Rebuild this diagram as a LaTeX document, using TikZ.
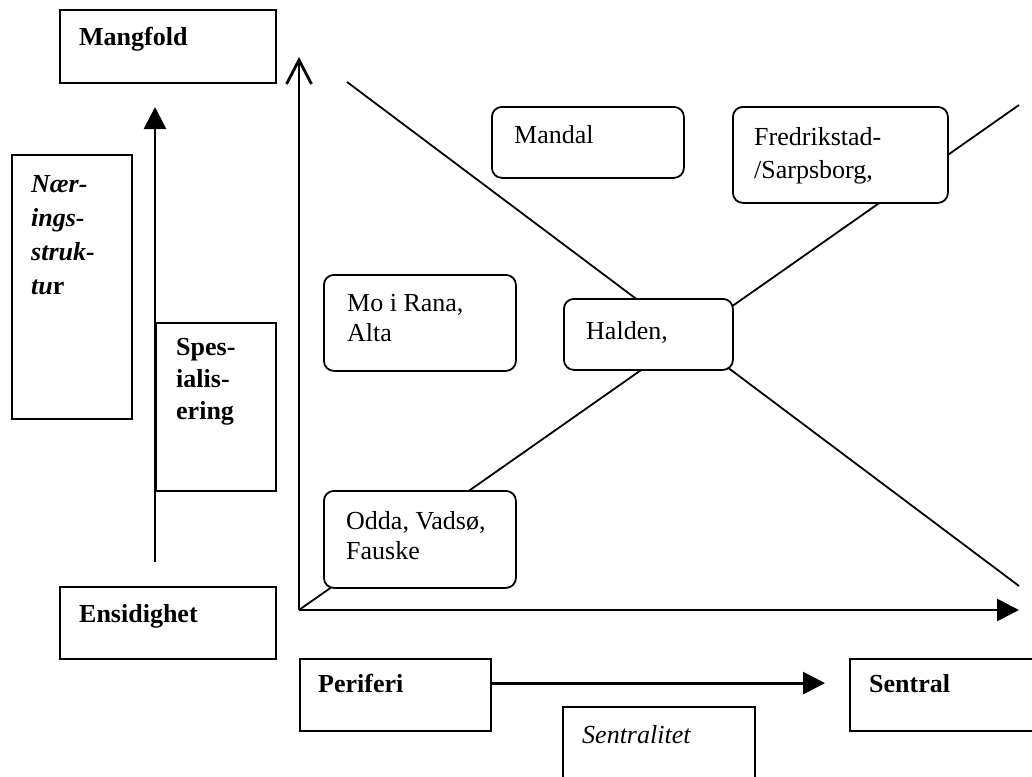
\documentclass[tikz,border=0pt]{standalone}
\usepackage{fontspec}
\setmainfont{Liberation Serif}
\usetikzlibrary{positioning}
\usetikzlibrary{arrows.meta}
\tikzset{
        boxnode/.style={inner sep=0pt, draw=black, fill=white, anchor=north west},
        % Square boxes
        node_square/.style={boxnode, rectangle, line width=2.2pt},
        % Rounded boxes
        node_round/.style={boxnode, rectangle, rounded corners=10pt, line width=1.8pt},
        % Box texts
        node_text/.style={inner sep=0pt, anchor=north west, align=left, font=\fontsize{26}{30}\selectfont},
        % Box texts, wider line spacing
        node_text_wide/.style={node_text, font=\fontsize{26}{34}\selectfont},
        % Lines and arrows
        line_diag/.style={line width=1.8pt},
        line_axis/.style={line width=2.8pt}
}

\begin{document}
\begin{tikzpicture}[x=1pt, y=-1pt]
        \useasboundingbox (0,0) rectangle (1032,776);
        \clip (0,0) rectangle (1032,776);

        % axes and diagonals
        \coordinate (origin) at (299,610);
        \coordinate (axis_top) at (299,57);
        \coordinate (axis_right) at (1019,610);
        \coordinate (diag_a) at (347,82);
        \coordinate (diag_b) at (1019,586);
        \coordinate (diag_c) at (1019,105);
        \coordinate (scale_bottom) at (155,562);
        \coordinate (scale_top) at (155,107);

        \draw[line_diag] (diag_a) -- (diag_b);
        \draw[line_diag] (origin) -- (diag_c);
        \draw[line_axis, -{Straight Barb[length=24pt,width=25pt]}] (origin) -- (axis_top);
        \draw[line_axis, -{Triangle[length=22pt,width=22pt]}] (origin) -- (axis_right);
        \draw[line_axis, -{Triangle[length=22pt,width=22pt]}] (scale_bottom) -- (scale_top);

        % left side
        \node[node_square, minimum width=216pt, minimum height=73pt] (mangfold) at (59,9) {};
        \node[node_text] (mangfold_txt) at ([shift={(20,18)}]mangfold.north west) {\bfseries Mangfold};
        \node[node_square, minimum width=120pt, minimum height=264pt] (naering) at (11,154) {};
        \node[node_text_wide] (naering_txt) at ([shift={(20,21)}]naering.north west)
            {\bfseries\itshape Nær-\\\bfseries\itshape ings-\\\bfseries\itshape struk-\\\bfseries\itshape tu\upshape r};
        \node[node_square, minimum width=120pt, minimum height=168pt] (spes) at (155,322) {};
        \node[node_text, font=\fontsize{26}{32}\selectfont] (spes_txt) at ([shift={(21,16)}]spes.north west)
            {\bfseries Spes-\\\bfseries ialis-\\\bfseries ering};
        \node[node_square, minimum width=216pt, minimum height=72pt] (ensidig) at (59,586) {};
        \node[node_text] (ensidig_txt) at ([shift={(20,18)}]ensidig.north west) {\bfseries Ensidighet};

        % bottom
        \node[node_square, minimum width=191pt, minimum height=72pt] (periferi) at (299,658) {};
        \node[node_text] (periferi_txt) at ([shift={(19,16)}]periferi.north west) {\bfseries Periferi};
        \node[node_square, minimum width=200pt, minimum height=72pt] (sentral) at (849,658) {};
        \node[node_text] (sentral_txt) at ([shift={(20,16)}]sentral.north west) {\bfseries Sentral};
        \node[node_square, minimum width=192pt, minimum height=90pt] (sentralitet) at (562,706) {};
        \node[node_text] (sentralitet_txt) at ([shift={(20,19)}]sentralitet.north west) {\itshape Sentralitet};
        \draw[line_axis, -{Triangle[length=22pt,width=22pt]}] ([yshift=12pt]periferi.east) -- ([yshift=12pt,xshift=-24pt]sentral.west);

        % towns
        \node[node_round, minimum width=192pt, minimum height=71pt] (mandal) at (491,106) {};
        \node[node_text] (mandal_txt) at ([shift={(23,19)}]mandal.north west) {Mandal};
        \node[node_round, minimum width=215pt, minimum height=96pt] (fredrikstad) at (732,106) {};
        \node[node_text, font=\fontsize{26}{33}\selectfont] (fredrikstad_txt) at ([shift={(22,21)}]fredrikstad.north west) {Fredrikstad-\\/Sarpsborg,};
        \node[node_round, minimum width=192pt, minimum height=96pt] (morana) at (323,274) {};
        \node[node_text] (morana_txt) at ([shift={(24,20)}]morana.north west) {Mo i Rana,\\Alta};
        \node[node_round, minimum width=169pt, minimum height=71pt] (halden) at (563,298) {};
        \node[node_text] (halden_txt) at ([shift={(23,23)}]halden.north west) {Halden,};
        \node[node_round, minimum width=192pt, minimum height=97pt] (odda) at (323,490) {};
        \node[node_text] (odda_txt) at ([shift={(23,21)}]odda.north west) {Odda, Vadsø,\\Fauske};
\end{tikzpicture}
\end{document}
